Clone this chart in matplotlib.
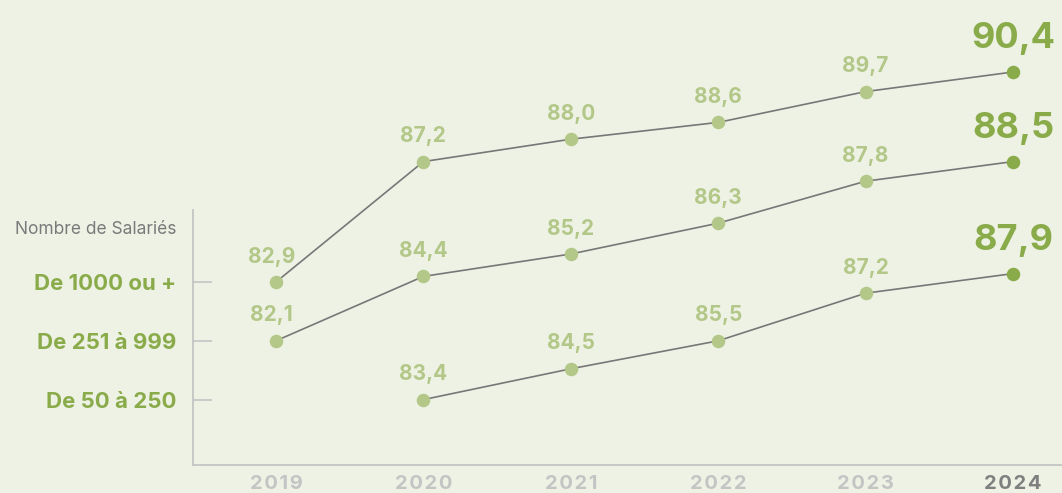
import matplotlib
matplotlib.use("Agg")
import matplotlib.pyplot as plt

# donnees
annees = [2019, 2020, 2021, 2022, 2023, 2024]
serie_1000 = [82.9, 87.2, 88.0, 88.6, 89.7, 90.4]
serie_251 = [82.1, 84.4, 85.2, 86.3, 87.8, 88.5]
serie_50 = [None, 83.4, 84.5, 85.5, 87.2, 87.9]
categories = ["De 1000 ou +", "De 251 à 999", "De 50 à 250"]
titre_axe = "Nombre de Salariés"

series = [serie_1000, serie_251, serie_50]
bases = [0, -2.1, -4.2]  # position de depart de chaque courbe

fond = "#eef2e5"
vert_clair = "#b3c888"
vert_fonce = "#8aab4a"
gris_ligne = "#777777"
gris_axe = "#c4c4c4"

plt.rcParams["font.family"] = ["Inter", "DejaVu Sans"]

fig = plt.figure(figsize=(10.62, 4.93), dpi=100, facecolor=fond)
ax = fig.add_axes([193 / 1062, 28 / 493, 1 - 193 / 1062, 1 - 28 / 493])
ax.set_facecolor(fond)

for vals, base in zip(series, bases):
    xs = [a for a, v in zip(annees, vals) if v is not None]
    vs = [v for v in vals if v is not None]
    ys = [v - vs[0] + base for v in vs]
    ax.plot(xs, ys, color=gris_ligne, lw=1.2, zorder=1)
    ax.scatter(xs[:-1], ys[:-1], s=95, color=vert_clair, zorder=2, linewidths=0)
    ax.scatter(xs[-1:], ys[-1:], s=95, color=vert_fonce, zorder=2, linewidths=0)
    for x, y, v in zip(xs, ys, vs):
        txt = f"{v:.1f}".replace(".", ",")
        if x == annees[-1]:
            ax.annotate(txt, (x, y), xytext=(0, 17), textcoords="offset points",
                        ha="center", va="baseline", fontsize=26, fontweight="bold",
                        color=vert_fonce)
        else:
            ax.annotate(txt, (x, y), xytext=(-3 if x == annees[0] else 0, 14),
                        textcoords="offset points",
                        ha="center", va="baseline", fontsize=15, fontweight="bold",
                        color=vert_clair)

px = 28.0  # pixels par unite
ax.set_ylim(-(465 - 282) / px, 282 / px)
ax.set_xlim(2019 - 83 / 147.4, 2024 + 49 / 147.4)

ax.set_yticks(bases)
ax.set_yticklabels(categories, fontsize=16, fontweight="bold", color=vert_fonce)
ax.tick_params(axis="y", direction="in", length=14, width=1.2, color=gris_axe, pad=12)

ax.set_xticks(annees)
ax.set_xticklabels(["\u200a".join(str(a)) for a in annees], fontsize=14.5,
                   fontweight="bold", color=gris_axe)
ax.get_xticklabels()[-1].set_color("#7f7f7f")
ax.tick_params(axis="x", length=0, pad=7.5)

for s in ["top", "right"]:
    ax.spines[s].set_visible(False)
ax.spines["left"].set_color(gris_axe)
ax.spines["bottom"].set_color(gris_axe)
ax.spines["left"].set_linewidth(1.3)
ax.spines["bottom"].set_linewidth(1.3)
ax.spines["left"].set_bounds(-(465 - 282) / px, (282 - 210) / px)

fig.text(176 / 1062, 1 - 229 / 493, titre_axe, ha="right", va="center",
         fontsize=12.5, color="#7a7a7a")

fig.savefig("out.png", dpi=100, facecolor=fond)
